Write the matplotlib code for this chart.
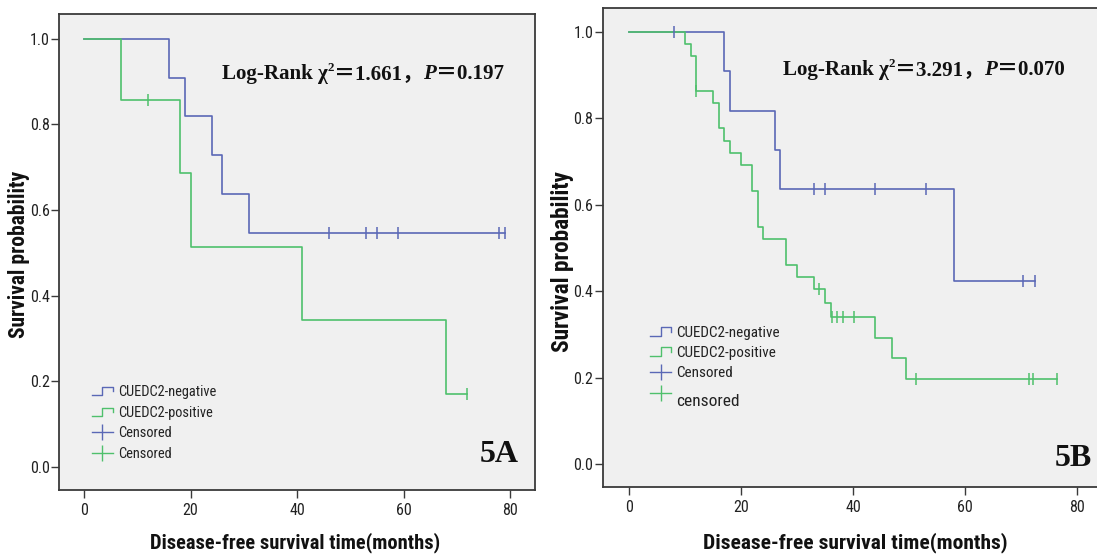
import matplotlib
matplotlib.use("Agg")
import matplotlib.pyplot as plt
from matplotlib.lines import Line2D
from matplotlib.legend_handler import HandlerBase
from matplotlib.transforms import offset_copy
from matplotlib import font_manager as fm
from matplotlib.font_manager import FontProperties

# ---------------- data ----------------
# Panel 5A
a_neg_times = [0, 16, 19, 24, 26, 31]
a_neg_surv = [1.0, 0.909, 0.818, 0.727, 0.636, 0.545]
a_neg_end = 79
a_neg_cens = [46, 53, 55, 59, 78, 79]

a_pos_times = [0, 7, 18, 20, 41, 68]
a_pos_surv = [1.0, 0.857, 0.686, 0.514, 0.343, 0.171]
a_pos_end = 72
a_pos_cens = [12, 72]

# Panel 5B
b_neg_times = [0, 17, 18, 26, 27, 58]
b_neg_surv = [1.0, 0.909, 0.818, 0.727, 0.636, 0.424]
b_neg_end = 72.5
b_neg_cens = [8, 33, 35, 44, 53, 70.4, 72.5]

b_pos_times = [0, 10, 11, 12, 15, 16, 17, 18, 20, 22, 23, 24, 28, 30, 33, 35, 36, 44, 47, 49.5]
b_pos_surv = [1.0, 0.972, 0.945, 0.863, 0.835, 0.777, 0.748, 0.719, 0.692, 0.633,
              0.548, 0.520, 0.461, 0.434, 0.404, 0.373, 0.341, 0.292, 0.245, 0.196]
b_pos_end = 76.5
b_pos_cens = [12, 34, 36.2, 37.2, 38.2, 40.2, 51.3, 71.5, 72.2, 76.5]

x_ticks = [0, 20, 40, 60, 80]
y_ticks = [0.0, 0.2, 0.4, 0.6, 0.8, 1.0]

labels_a = ["CUEDC2-negative", "CUEDC2-positive", "Censored", "Censored"]
labels_b = ["CUEDC2-negative", "CUEDC2-positive", "Censored", "censored"]
stat_a = ("1.661", "0.197")
stat_b = ("3.291", "0.070")

# ---------------- style ----------------
BLUE = "#5a68b6"
GREEN = "#4fc06c"
BG = "#f0f0f0"
SERIF = "Liberation Serif"


def _w(f):
    w = f.weight
    if isinstance(w, str):
        w = fm.weight_dict.get(w, 400)
    return w


def pick_narrow(bold):
    prefs = ["liberation sans narrow", "arial narrow", "roboto condensed",
             "open sans condensed", "noto sans condensed", "open sans", "noto sans", "roboto"]
    best, best_score = None, None
    for f in fm.fontManager.ttflist:
        n = f.name.lower()
        fn = f.fname.lower()
        cond = ("narrow" in n or "condensed" in n or "narrow" in fn or "condensed" in fn
                or f.stretch in ("condensed", "semi-condensed", "extra-condensed",
                                 "ultra-condensed", 300, 400, 500))
        if not cond or "dejavu" in n or "mono" in n or "serif" in n.replace("sans", ""):
            continue
        if f.style != "normal" or "italic" in fn:
            continue
        pr = len(prefs)
        for i, p in enumerate(prefs):
            if n.startswith(p):
                pr = i
                break
        score = pr * 1000 + abs(_w(f) - (700 if bold else 400))
        if best_score is None or score < best_score:
            best, best_score = f.fname, score
    return best


_nr = pick_narrow(False)
_nb = pick_narrow(True)


def narrow(size, bold=False):
    path = _nb if bold else _nr
    if path:
        return FontProperties(fname=path, size=size)
    return FontProperties(family="Liberation Sans", weight="bold" if bold else "normal", size=size)


W, H = 1097, 557
fig = plt.figure(figsize=(W / 100, H / 100), dpi=100)
fig.patch.set_facecolor("white")
R = fig.canvas.get_renderer()


def px_axes(l, r, t, b):
    return fig.add_axes([l / W, (H - b) / H, (r - l) / W, (b - t) / H])


def surv_curve(ax, times, surv, end, cens, color):
    xs = list(times) + [end]
    ys = list(surv) + [surv[-1]]
    ax.step(xs, ys, where="post", color=color, lw=1.2, zorder=3)
    cy = []
    for c in cens:
        idx = max(i for i, t in enumerate(times) if t <= c)
        cy.append(surv[idx])
    ax.plot(cens, cy, ls="none", marker="|", ms=9, mew=1.1, color=color, zorder=4)


class StepHandler(HandlerBase):
    def create_artists(self, legend, orig_handle, xdescent, ydescent,
                       width, height, fontsize, trans):
        x0, y0 = -xdescent, -ydescent
        xs = [x0, x0 + 0.5 * width, x0 + 0.5 * width, x0 + width, x0 + width]
        ys = [y0 + 0.1 * height, y0 + 0.1 * height, y0 + 0.9 * height,
              y0 + 0.9 * height, y0 + 0.45 * height]
        ln = Line2D(xs, ys, color=orig_handle.get_color(), lw=1.0, transform=trans)
        return [ln]


def style_axes(ax, xlim, ylim):
    ax.set_facecolor(BG)
    ax.set_xlim(*xlim)
    ax.set_ylim(*ylim)
    ax.set_xticks(x_ticks)
    ax.set_yticks(y_ticks)
    ax.set_yticklabels([f"{v:.1f}" for v in y_ticks])
    for s in ax.spines.values():
        s.set_color("#3a3a3a")
        s.set_linewidth(1.3)
    ax.tick_params(axis="both", direction="out", length=6, width=1.0, color="#3a3a3a",
                   labelcolor="#222222")
    fp = narrow(11.5)
    for lab in ax.get_xticklabels() + ax.get_yticklabels():
        lab.set_fontproperties(fp)
    ax.tick_params(axis="y", pad=1)
    ax.tick_params(axis="x", pad=3.5)


def fit_label(text_obj, target_px, bold=True, start=14.0, cap=None):
    text_obj.set_fontproperties(narrow(start, bold))
    bb = text_obj.get_window_extent(R)
    span = max(bb.width, bb.height)
    size = start * target_px / span
    if cap is not None:
        size = min(size, cap)
    text_obj.set_fontproperties(narrow(size, bold))
    return size


def rich_text(ax, x, y, pieces):
    dx = 0.0
    made = []
    for s, kw, dy in pieces:
        tr = offset_copy(ax.transAxes, fig=fig, x=dx, y=dy, units="dots")
        t = ax.text(x, y, s, transform=tr, va="baseline", ha="left", color="#111111", **kw)
        bb = t.get_window_extent(R)
        dx += bb.width
        made.append(t)
    return dx, made


def stat_pieces(chi, p, size):
    bold = dict(fontfamily=SERIF, fontweight="bold", fontsize=size)
    wide = dict(fontfamily=[SERIF, "Noto Sans CJK SC"], fontweight="bold", fontsize=size)
    return [
        ("Log-Rank ", bold, 0),
        ("\u03c7", bold, 0),
        ("2", dict(fontfamily=SERIF, fontweight="bold", fontsize=size * 0.62), size * 0.55),
        ("\uff1d" + chi + "\uff0c", wide, 0),
        ("P", dict(fontfamily=SERIF, fontweight="bold", fontstyle="italic", fontsize=size), 0),
        ("\uff1d" + p, wide, 0),
    ]


def fitted_rich(ax, x, y, chi, p, target):
    w, made = rich_text(ax, x, y, stat_pieces(chi, p, 14))
    for t in made:
        t.remove()
    size = 14 * target / w
    rich_text(ax, x, y, stat_pieces(chi, p, size))


def make_legend(ax, labels, anchor, target_w, pitch_px):
    h1 = Line2D([], [], color=BLUE)
    h2 = Line2D([], [], color=GREEN)
    h3 = Line2D([], [], color=BLUE, marker="|", ms=11, mew=1.0, lw=1.0)
    h4 = Line2D([], [], color=GREEN, marker="|", ms=11, mew=1.0, lw=1.0)
    probe = ax.text(0, 0, labels[0], fontproperties=narrow(11))
    w = probe.get_window_extent(R).width
    hgt = probe.get_window_extent(R).height
    probe.remove()
    size = 11 * target_w / w
    hgt = hgt * size / 11
    fs_px = size * 100 / 72
    ls = max(0.0, (pitch_px - hgt) / fs_px)
    leg = ax.legend([h1, h2, h3, h4], labels, loc="upper left", bbox_to_anchor=anchor,
                    frameon=False, handler_map={h1: StepHandler(), h2: StepHandler()},
                    prop=narrow(size), handlelength=21 / fs_px,
                    handletextpad=5 / fs_px, labelspacing=ls, borderpad=0, borderaxespad=0)
    for t in leg.get_texts():
        t.set_color("#222222")
    return leg, size


# ---------------- panel A ----------------
axA = px_axes(59.3, 535, 14, 490)
style_axes(axA, (-4.64, 84.69), (-0.0537, 1.0572))
surv_curve(axA, a_neg_times, a_neg_surv, a_neg_end, a_neg_cens, BLUE)
surv_curve(axA, a_pos_times, a_pos_surv, a_pos_end, a_pos_cens, GREEN)
axA.set_xlabel("Disease-free survival time(months)", color="#111111")
axA.set_ylabel("Survival probability", color="#111111")
sxA = fit_label(axA.xaxis.label, 292)
fit_label(axA.yaxis.label, 190, cap=sxA * 1.05)
axA.xaxis.set_label_coords(0.495, -0.111)
axA.xaxis.label.set_va("center")
axA.yaxis.set_label_coords(-0.084, 0.494)
axA.yaxis.label.set_va("center")
make_legend(axA, labels_a, (0.068, 0.221), 98, 20)
axA.text(0.965, 0.075, "5A", transform=axA.transAxes, ha="right", va="center",
         fontfamily=SERIF, fontweight="bold", fontsize=23, color="#111111")

# ---------------- panel B ----------------
axB = px_axes(603, 1099, 8, 487)
style_axes(axB, (-4.64, 83.93), (-0.0532, 1.0556))
surv_curve(axB, b_neg_times, b_neg_surv, b_neg_end, b_neg_cens, BLUE)
surv_curve(axB, b_pos_times, b_pos_surv, b_pos_end, b_pos_cens, GREEN)
axB.set_xlabel("Disease-free survival time(months)", color="#111111")
axB.set_ylabel("Survival probability", color="#111111")
sxB = fit_label(axB.xaxis.label, 306)
fit_label(axB.yaxis.label, 218, cap=sxB * 1.08)
axB.xaxis.set_label_coords(0.508, -0.117)
axB.xaxis.label.set_va("center")
axB.yaxis.set_label_coords(-0.082, 0.47)
axB.yaxis.label.set_va("center")
legB, sizeB = make_legend(axB, labels_b, (0.0948, 0.337), 103, 20)
last = legB.get_texts()[3]
last.set_fontsize(sizeB * 1.15)
last.set_y(-8)
axB.text(0.985, 0.06, "5B", transform=axB.transAxes, ha="right", va="center",
         fontfamily=SERIF, fontweight="bold", fontsize=23, color="#111111")

fig.canvas.draw()
fitted_rich(axA, 0.342, 0.8634, *stat_a, 284)
fitted_rich(axB, 0.363, 0.860, *stat_b, 284)

fig.savefig("out.png", dpi=100, facecolor="white")
